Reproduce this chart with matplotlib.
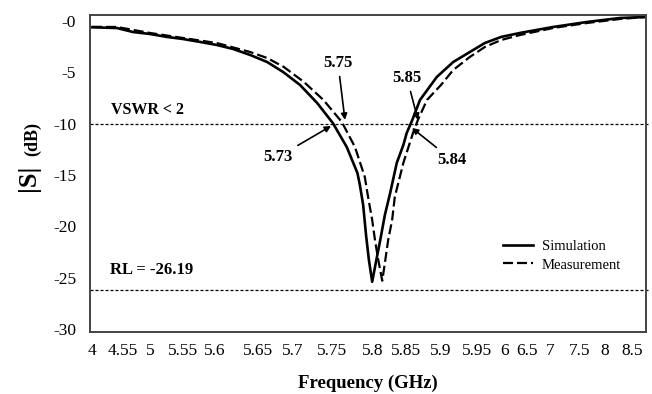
import numpy as np
import matplotlib
matplotlib.use("Agg")
from matplotlib import pyplot as plt

plt.rcParams['font.family'] = ['Liberation Serif', 'DejaVu Serif']

# tick frequencies shown on the (non-uniform) frequency axis
tick_freq = [4, 4.55, 5, 5.55, 5.6, 5.65, 5.7, 5.75, 5.8, 5.85, 5.9, 5.95,
             6, 6.5, 7, 7.5, 8, 8.5]
tick_text = ['4', '4.55', '5', '5.55', '5.6', '5.65', '5.7', '5.75', '5.8',
             '5.85', '5.9', '5.95', '6', '6.5', '7', '7.5', '8', '8.5']
y_ticks = [0, -5, -10, -15, -20, -25, -30]
y_text = ['-0', '-5', '-10', '-15', '-20', '-25', '-30']

# simulated |S11| (dB)
sim_f = [4.0, 4.444, 4.717, 5.0, 5.283, 5.55, 5.577, 5.602, 5.621, 5.641,
         5.663, 5.686, 5.709, 5.731, 5.751, 5.768, 5.781, 5.784, 5.788,
         5.7915, 5.795, 5.799, 5.8045, 5.811, 5.818, 5.826, 5.836, 5.846,
         5.851, 5.859, 5.870, 5.894, 5.917, 5.940, 5.964, 5.993, 6.341,
         7.05, 7.64, 8.278, 8.74]
sim_db = [-0.6, -0.67, -1.06, -1.25, -1.54, -1.74, -2.03, -2.32, -2.71, -3.30,
          -3.98, -4.96, -6.22, -7.98, -9.93, -12.27, -14.80, -15.97, -17.92,
          -20.84, -23.28, -25.4, -23.47, -21.33, -18.89, -16.75, -13.82,
          -12.07, -10.90, -9.63, -7.68, -5.44, -3.98, -3.01, -2.13, -1.54,
          -1.15, -0.57, -0.08, 0.31, 0.4]

# measured |S11| (dB)
mea_f = [4.0, 4.444, 5.0, 5.55, 5.602, 5.641, 5.663, 5.687, 5.714, 5.739,
         5.762, 5.778, 5.790, 5.794, 5.799, 5.803, 5.808, 5.814, 5.818,
         5.823, 5.829, 5.833, 5.846, 5.860, 5.867, 5.880, 5.900, 5.917,
         5.940, 5.964, 5.993, 6.341, 7.05, 7.64, 8.278, 8.74]
mea_db = [-0.55, -0.57, -1.15, -1.64, -2.13, -3.01, -3.59, -4.47, -5.93, -7.68,
          -9.83, -12.27, -15.19, -17.14, -19.38, -21.33, -23.28, -25.3, -23.57,
          -21.33, -19.38, -17.14, -13.82, -10.90, -9.63, -7.68, -6.22, -4.76,
          -3.49, -2.52, -1.84, -1.35, -0.67, -0.18, 0.21, 0.4]

vswr_level = -10
rl_level = -26.19

# piecewise axis layout (frequency -> position along the axis)
scale_f = [3.965] + tick_freq + [8.76]
scale_pos = [90, 92, 123, 150, 183, 215, 258, 293, 332, 373, 406, 441, 477,
             505, 527, 550, 580, 605, 632, 646]


def fwd(f):
    return np.interp(f, scale_f, scale_pos)


def inv(p):
    return np.interp(p, scale_pos, scale_f)


fig = plt.figure(figsize=(6.52, 3.94), dpi=100)
ax = fig.add_axes([90 / 652, 1 - 332 / 394, 556 / 652, 317 / 394])
ax.set_xscale('function', functions=(fwd, inv))

ax.plot(sim_f, sim_db, 'k-', lw=1.9, label='Simulation')
ax.plot(mea_f, mea_db, 'k--', lw=1.6, dashes=(4.5, 1.8), label='Measurement')

for lev in (vswr_level, rl_level):
    ax.axhline(lev, xmin=0, xmax=1.008, color='k', lw=0.9,
               dashes=(2.4, 1.6), clip_on=False)

ax.set_xlim(3.965, 8.76)
ax.set_ylim(-30.3, 0.6)
ax.set_xticks(tick_freq)
ax.set_xticklabels(tick_text)
ax.set_yticks(y_ticks)
ax.set_yticklabels(y_text)
ax.tick_params(length=0, labelsize=12.5)
ax.tick_params(axis='x', pad=8)
ax.tick_params(axis='y', pad=10)
for s in ax.spines.values():
    s.set_color('#444444')
    s.set_linewidth(1.4)

ax.text(0.104, 0.700, 'VSWR < 2', transform=ax.transAxes, ha='center',
        va='center', fontsize=11.5, fontweight='bold')
ax.text(0.1115, 0.196, 'RL = -26.19', transform=ax.transAxes, ha='center',
        va='center', fontsize=12, fontweight='bold')

arrow = dict(arrowstyle='-|>', color='k', lw=1.2, mutation_scale=9,
             shrinkA=2, shrinkB=0)
ax.annotate('5.75', xy=(5.7658, -9.63), xytext=(5.7573, -4.08),
            ha='center', va='center', fontsize=12, fontweight='bold',
            arrowprops=arrow)
ax.annotate('5.73', xy=(5.7488, -10.22), xytext=(5.6786, -13.24),
            ha='center', va='center', fontsize=12, fontweight='bold',
            arrowprops=arrow)
ax.annotate('5.85', xy=(5.8671, -9.63), xytext=(5.8514, -5.54),
            ha='center', va='center', fontsize=12, fontweight='bold',
            arrowprops=arrow)
ax.annotate('5.84', xy=(5.8586, -10.41), xytext=(5.9153, -13.53),
            ha='center', va='center', fontsize=12, fontweight='bold',
            arrowprops=arrow)

ax.legend(loc='upper left', bbox_to_anchor=(0.742, 0.29), frameon=False,
          fontsize=10.5, handlelength=2.1, handletextpad=0.6,
          labelspacing=0.35, borderpad=0, borderaxespad=0)

ax.set_xlabel('Frequency (GHz)', fontsize=13.5, fontweight='bold', labelpad=11)
fig.text(28 / 652, 1 - 178 / 394, '|S|', rotation=90, ha='center',
         va='center', fontsize=19, fontweight='bold')
fig.text(33 / 652, 1 - 139 / 394, '(dB)', rotation=90, ha='center',
         va='center', fontsize=13, fontweight='bold')

fig.savefig('out.png', dpi=100)
